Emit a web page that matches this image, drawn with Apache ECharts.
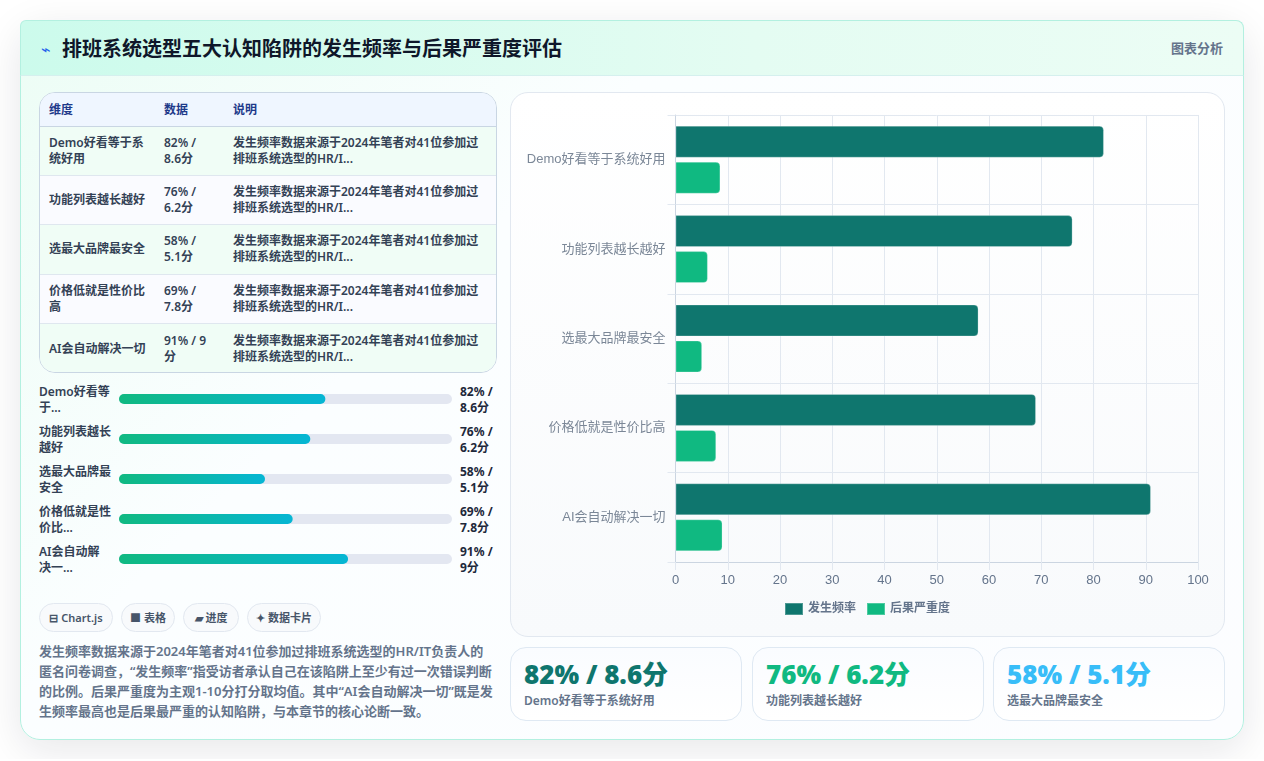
<!DOCTYPE html>
<html lang="zh-CN">
<head>
<meta charset="utf-8">
<title>排班系统选型五大认知陷阱的发生频率与后果严重度评估</title>
<script src="https://cdn.jsdelivr.net/npm/echarts@6/dist/echarts.min.js"></script>
<style>
  * { box-sizing: border-box; margin: 0; padding: 0; }
  html, body { width: 1264px; height: 761px; overflow: hidden; background: #fff; }
  body { font-family: "Noto Sans", "Noto Sans CJK SC", sans-serif; color: #1e293b; }
  #page { position: absolute; left: 0; top: 0; width: 1264px; height: 759px; overflow: hidden; }
  #card { position: absolute; left: 20px; top: 20px; width: 1224px; height: 720px; border-radius: 20px;
    border: 1px solid #b3f0e0; box-shadow: 0 10px 40px rgba(15, 23, 42, .10);
    background: linear-gradient(135deg, #ecfdf5 0%, #fbfeff 35%, #fcfdff 100%); }
  #head { position: absolute; left: -1px; top: -1px; width: 1224px; height: 56px; border-radius: 6px 8px 0 0;
    border: 1px solid #b3f0e0; border-bottom-color: #d5f0ee;
    background: linear-gradient(90deg, #ccfbec 0%, #e4fcf2 60%, #ecfdf5 100%); }
  #head .bolt { position: absolute; left: 20px; top: 19px; font-size: 16px; line-height: 18px; color: #2563eb; }
  #head h1 { position: absolute; left: 41px; top: 14px; font-size: 20px; line-height: 28px; font-weight: 700; color: #0f172a; white-space: nowrap; }
  #head .kind { position: absolute; right: 20px; top: 18px; font-size: 13px; line-height: 18px; font-weight: 600; color: #64748b; }
  .abs { position: absolute; }
  #tableBox { left: 18px; top: 71px; width: 458px; height: 281px; border: 1px solid #c9d6e3; border-radius: 16px; overflow: hidden; background: #fff; }
  table { width: 100%; border-collapse: collapse; table-layout: fixed; font-size: 12px; line-height: 16px; }
  th { height: 33px; text-align: left; padding: 1px 9px 0; color: #1e3a8a; font-weight: 700; background: #eff6ff; border-bottom: 1px solid #c9d6e3; }
  td { height: 49.4px; padding: 0 9px; color: #334155; font-weight: 600; vertical-align: middle; border-bottom: 1px solid #dfe7ef; }
  tr:last-child td { border-bottom: 0; }
  tbody tr:nth-child(odd) { background: #f0fdf6; }
  tbody tr:nth-child(even) { background: #fafbff; }
  .pLabel { position: absolute; left: 18px; width: 78px; font-size: 12px; line-height: 16px; font-weight: 600; color: #334155; }
  .pValue { position: absolute; left: 439px; width: 38px; font-size: 12px; line-height: 16px; font-weight: 700; color: #1e293b; }
  #progress { left: 98px; top: 358px; width: 333px; height: 200px; }
  .tag { position: absolute; top: 582px; height: 29px; border: 1px solid #e2e8f0; border-radius: 15px; background: #f8fafc;
    font-size: 11px; line-height: 27px; font-weight: 600; color: #475569; text-align: center; white-space: nowrap; }
  #note { left: 18px; top: 620px; width: 470px; font-size: 13px; line-height: 20px; font-weight: 600; color: #64748b; white-space: nowrap; }
  #panel { left: 489px; top: 71px; width: 715px; height: 545px; border: 1px solid #e2e8f0; border-radius: 18px;
    background: linear-gradient(180deg, #ffffff 0%, #f8fafc 100%); }
  #bars { position: absolute; left: 0; top: 0; width: 713px; height: 543px; }
  .stat { position: absolute; top: 626px; height: 74px; border: 1px solid #dfe9f3; border-radius: 16px;
    background: linear-gradient(180deg, #fafcff 0%, #ffffff 100%); }
  .stat b { position: absolute; left: 13px; top: 8px; font-size: 26px; line-height: 36px; font-weight: 900; white-space: nowrap; }
  .stat span { position: absolute; left: 13px; top: 45px; font-size: 12px; line-height: 16px; font-weight: 600; color: #64748b; white-space: nowrap; }
</style>
</head>
<body>
<div id="page"><div id="card">
  <div id="head"><span class="bolt">⌁</span><h1 id="title"></h1><span class="kind" id="kind"></span></div>
  <div class="abs" id="tableBox"></div>
  <div class="abs" id="progress"></div>
  <div class="abs" id="note"></div>
  <div class="abs" id="panel"><div id="bars"></div></div>
</div></div>
<script>
  // Survey results per cognitive trap
  const categories = ['Demo好看等于系统好用', '功能列表越长越好', '选最大品牌最安全', '价格低就是性价比高', 'AI会自动解决一切'];
  const shortNames = ['Demo好看等<br>于...', '功能列表越长<br>越好', '选最大品牌最<br>安全', '价格低就是性<br>价比...', 'AI会自动解<br>决一...'];
  const frequency = [82, 76, 58, 69, 91];
  const severity = [8.6, 6.2, 5.1, 7.8, 9];
  const readings = ['82% / 8.6分', '76% / 6.2分', '58% / 5.1分', '69% / 7.8分', '91% / 9分'];
  const seriesNames = ['发生频率', '后果严重度'];
  const tableHead = ['维度', '数据', '说明'];
  const tableNote = '发生频率数据来源于2024年笔者对41位参加过<br>排班系统选型的HR/I...';
  const tags = [['⊟ Chart.js', 18, 74], ['■ 表格', 100, 54], ['▰ 进度', 162, 56], ['✦ 数据卡片', 226, 74]];
  const statColors = ['#0f766e', '#10b981', '#38bdf8'];
  const titleText = '排班系统选型五大认知陷阱的发生频率与后果严重度评估';
  const kindText = '图表分析';
  const noteLines = [
    '发生频率数据来源于2024年笔者对41位参加过排班系统选型的HR/IT负责人的',
    '匿名问卷调查，“发生频率”指受访者承认自己在该陷阱上至少有过一次错误判断',
    '的比例。后果严重度为主观1-10分打分取均值。其中“AI会自动解决一切”既是发',
    '生频率最高也是后果最严重的认知陷阱，与本章节的核心论断一致。'
  ];

  // Static page text
  document.getElementById('title').textContent = titleText;
  document.getElementById('kind').textContent = kindText;
  document.getElementById('note').innerHTML = noteLines.join('<br>');

  // Summary table
  document.getElementById('tableBox').innerHTML =
    '<table><colgroup><col style="width:115px"><col style="width:69px"><col></colgroup><thead><tr>' +
    tableHead.map(h => '<th>' + h + '</th>').join('') + '</tr></thead><tbody>' +
    categories.map((c, i) => '<tr><td>' + c + '</td><td>' + readings[i] + '</td><td>' + tableNote + '</td></tr>').join('') +
    '</tbody></table>';

  const card = document.getElementById('card');
  const add = (cls, html, css) => {
    const el = document.createElement('div');
    el.className = cls;
    el.innerHTML = html;
    el.style.cssText = css;
    card.appendChild(el);
  };

  // Text either side of the progress bars
  categories.forEach((c, i) => {
    const top = 363 + i * 40;
    add('pLabel', shortNames[i], 'top:' + top + 'px');
    add('pValue', readings[i], 'top:' + top + 'px');
  });

  // Source tags
  tags.forEach(t => add('tag', t[0], 'left:' + t[1] + 'px;width:' + t[2] + 'px'));

  // Headline figures for the first three traps
  const statLeft = [489, 731, 972];
  const statWidth = [232, 232, 232];
  statColors.forEach((color, i) => {
    add('stat', '<b style="color:' + color + '">' + readings[i] + '</b><span>' + categories[i] + '</span>',
      'left:' + statLeft[i] + 'px;width:' + statWidth[i] + 'px');
  });

  const chartFont = '"Liberation Sans", "Noto Sans CJK SC", sans-serif';

  // Main grouped bar chart
  const bars = echarts.init(document.getElementById('bars'), null, { renderer: 'canvas' });
  bars.setOption({
    animation: false,
    textStyle: { fontFamily: chartFont },
    legend: {
      data: seriesNames, left: 268, top: 504, itemWidth: 18, itemHeight: 12, itemGap: 10, icon: 'rect',
      textStyle: { color: '#64748b', fontSize: 12, fontWeight: 600, fontFamily: chartFont }
    },
    grid: { left: 164.5, top: 22, width: 522.5, height: 447, containLabel: false },
    xAxis: {
      type: 'value', min: 0, max: 100, interval: 10,
      axisLine: { show: true, lineStyle: { color: '#cbd5e1' } },
      axisTick: { show: true, length: 8, lineStyle: { color: '#e2e8f0' } },
      axisLabel: { color: '#64748b', fontSize: 13, margin: 12, fontFamily: chartFont },
      splitLine: { show: true, lineStyle: { color: '#e2e8f0' } }
    },
    yAxis: {
      type: 'category', data: categories, inverse: true,
      axisLine: { show: true, lineStyle: { color: '#cbd5e1' } },
      axisTick: { show: true, length: 8, lineStyle: { color: '#e2e8f0' } },
      axisLabel: { color: '#7b8797', fontSize: 13, margin: 10, fontFamily: chartFont },
      splitLine: { show: true, lineStyle: { color: '#e2e8f0' } }
    },
    series: [
      { name: seriesNames[0], type: 'bar', data: frequency, barWidth: 32, barGap: '12.5%',
        itemStyle: { color: '#0f766e', borderColor: 'rgba(255,255,255,0.25)', borderWidth: 1, borderRadius: [0, 4, 4, 0] } },
      { name: seriesNames[1], type: 'bar', data: severity, barWidth: 32,
        itemStyle: { color: '#10b981', borderColor: 'rgba(255,255,255,0.25)', borderWidth: 1, borderRadius: [0, 4, 4, 0] } }
    ]
  });

  // Progress bars: the track spans a little over 132 points of frequency
  const progress = echarts.init(document.getElementById('progress'), null, { renderer: 'canvas' });
  progress.setOption({
    animation: false,
    grid: { left: 0, right: 0, top: 0, bottom: 0 },
    xAxis: { type: 'value', min: 0, max: 132.3, show: false },
    yAxis: { type: 'category', data: categories, inverse: true, show: false },
    series: [{
      type: 'bar', data: frequency, barWidth: 10, showBackground: true,
      backgroundStyle: { color: '#e3e7f1', borderRadius: 5 },
      itemStyle: {
        borderRadius: 5,
        color: new echarts.graphic.LinearGradient(0, 0, 1, 0, [
          { offset: 0, color: '#10b981' }, { offset: 1, color: '#06b6d4' }
        ])
      }
    }]
  });
</script>
</body>
</html>
